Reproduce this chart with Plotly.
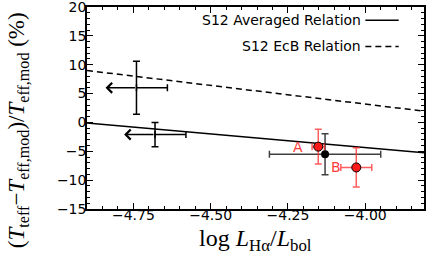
import plotly.graph_objects as go

# ---- data ----
# upper-limit points (arrow on the low-x side)
lim_x = [-4.74, -4.68]
lim_y = [6.0, -2.1]
lim_xerr = [0.10, 0.10]
lim_yerr = [4.6, 2.1]

# averaged (black) point
avg_x = [-4.13]
avg_y = [-5.5]
avg_xerr = [0.18]
avg_yerr = [3.55]

# components A and B (red)
comp_labels = ["A", "B"]
comp_x = [-4.152, -4.029]
comp_y = [-4.2, -7.8]
comp_xerr = [0.02, 0.05]
comp_yerr = [3.0, 3.4]

# S12 relations (straight lines, end points)
rel_x = [-4.90, -3.81]
rel_avg_y = [-0.12, -5.25]
rel_ecb_y = [9.0, 1.95]

legend_names = ["S12 Averaged Relation", "S12 EcB Relation"]

x_range = [-4.90, -3.81]
y_range = [-15, 20]
x_ticks = [-4.75, -4.50, -4.25, -4.00]
x_ticklabels = ["−4.75", "−4.50", "−4.25", "−4.00"]
y_ticks = [-15, -10, -5, 0, 5, 10, 15, 20]

fig = go.Figure()

fig.add_trace(go.Scatter(x=rel_x, y=rel_avg_y, mode="lines",
                         line=dict(color="black", width=1.5), showlegend=False))
fig.add_trace(go.Scatter(x=rel_x, y=rel_ecb_y, mode="lines",
                         line=dict(color="black", width=1.5, dash="6px,4px"), showlegend=False))

# upper-limit crosses
fig.add_trace(go.Scatter(
    x=lim_x, y=lim_y, mode="markers",
    marker=dict(size=1, color="rgba(0,0,0,0)"),
    error_x=dict(type="data", symmetric=False, array=lim_xerr, arrayminus=[0] * len(lim_x),
                 color="black", thickness=1.5, width=3.5),
    error_y=dict(type="data", array=lim_yerr, color="black", thickness=1.5, width=3.5),
    showlegend=False))

for xv, yv, xe in zip(lim_x, lim_y, lim_xerr):
    fig.add_annotation(x=xv - xe, y=yv, ax=xv, ay=yv, xref="x", yref="y",
                       axref="x", ayref="y", text="", showarrow=True,
                       arrowhead=4, arrowsize=1.3, arrowwidth=1.5, arrowcolor="black")

# averaged point
fig.add_trace(go.Scatter(
    x=avg_x, y=avg_y, mode="markers",
    marker=dict(size=8, color="black"),
    error_x=dict(type="data", array=avg_xerr, color="rgba(0,0,0,0.75)", thickness=1.5, width=3.5),
    error_y=dict(type="data", array=avg_yerr, color="rgba(0,0,0,0.75)", thickness=1.5, width=3.5),
    showlegend=False))

# components
fig.add_trace(go.Scatter(
    x=comp_x, y=comp_y, mode="markers",
    marker=dict(size=9, color="#ff1a1a", line=dict(color="black", width=1)),
    error_x=dict(type="data", array=comp_xerr, color="rgba(255,40,40,0.75)", thickness=1.5, width=3.5),
    error_y=dict(type="data", array=comp_yerr, color="rgba(255,40,40,0.75)", thickness=1.5, width=3.5),
    showlegend=False))

for lab, xv, yv in zip(comp_labels, comp_x, comp_y):
    fig.add_annotation(x=xv, y=yv, xref="x", yref="y", text=lab, showarrow=False,
                       xshift=-20, font=dict(family="DejaVu Sans", size=14, color="#ff3b3b"))

# manual legend (text first, then line sample)
leg_y = [0.935, 0.805]
leg_dash = ["solid", "6px,4px"]
for name, yy, dsh in zip(legend_names, leg_y, leg_dash):
    fig.add_annotation(x=0.818, y=yy, xref="paper", yref="paper", text=name,
                       showarrow=False, xanchor="right", yanchor="middle",
                       font=dict(family="DejaVu Sans", size=14, color="black"))
    fig.add_shape(type="line", xref="paper", yref="paper", x0=0.826, x1=0.925,
                  y0=yy, y1=yy, line=dict(color="black", width=1.5, dash=dsh))

# axis titles as annotations (positioned like the reference)
fig.add_annotation(x=-0.205, y=0.39, xref="paper", yref="paper", textangle=-90,
                   text="(<i>T</i><sub>teff</sub>−<i>T</i><sub>eff,mod</sub>)/<i>T</i><sub>eff,mod</sub> (%)",
                   showarrow=False, xanchor="center", yanchor="middle",
                   font=dict(family="Liberation Serif", size=23, color="black"))
fig.add_annotation(x=0.50, y=-0.155, xref="paper", yref="paper",
                   text="log <i>L</i><sub>Hα</sub>/<i>L</i><sub>bol</sub>",
                   showarrow=False, xanchor="center", yanchor="middle",
                   font=dict(family="Liberation Serif", size=24, color="black"))

axis_common = dict(
    showline=True, linecolor="black", linewidth=1.5, mirror="allticks",
    ticks="inside", ticklen=6, tickwidth=1, tickcolor="black",
    showgrid=False, zeroline=False, automargin=False, ticklabeloverflow="allow",
    tickfont=dict(family="DejaVu Sans", size=14, color="black"),
)

fig.update_xaxes(range=x_range, tickmode="array", tickvals=x_ticks, ticktext=x_ticklabels,
                 ticklabelstandoff=-8,
                 minor=dict(dtick=0.05, tick0=0, ticks="inside", ticklen=3, tickcolor="black", showgrid=False),
                 **axis_common)
fig.update_yaxes(range=y_range, tickmode="array", tickvals=y_ticks,
                 ticklabelstandoff=-4,
                 minor=dict(dtick=1, tick0=0, ticks="inside", ticklen=3, tickcolor="black", showgrid=False),
                 **axis_common)

fig.update_layout(width=436, height=262, margin=dict(l=87, r=12, t=7, b=53),
                  plot_bgcolor="white", paper_bgcolor="white", showlegend=False)

fig.write_html("out.html", config={"displayModeBar": False},
               post_script="document.body.style.margin='0px';")
